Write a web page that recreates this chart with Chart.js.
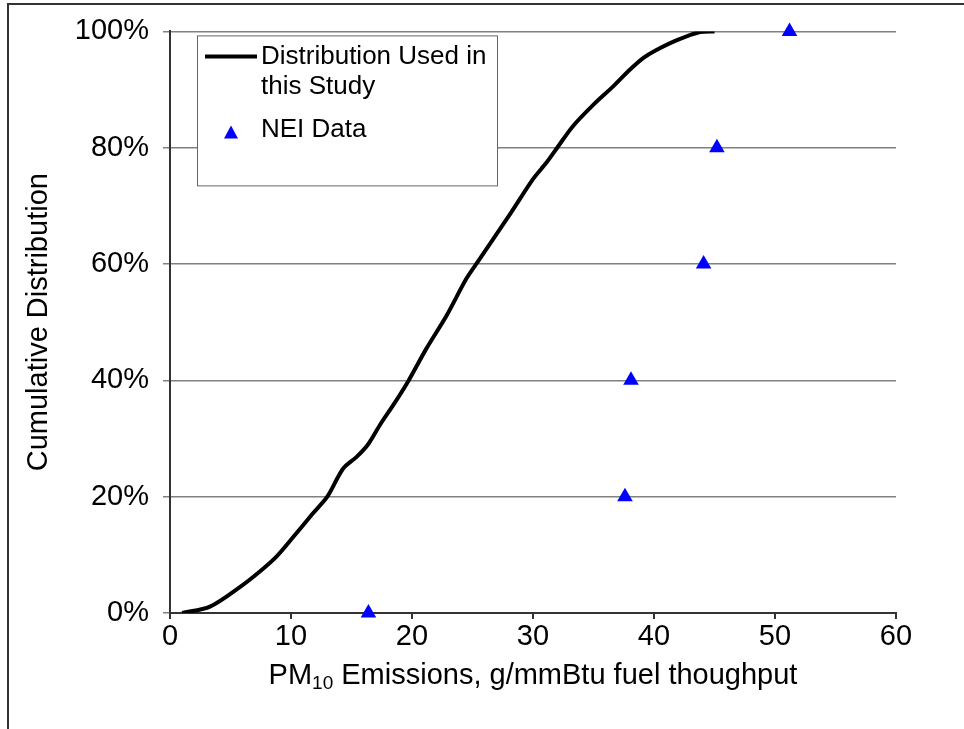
<!DOCTYPE html>
<html>
<head>
<meta charset="utf-8">
<script src="https://cdn.jsdelivr.net/npm/chart.js@4"></script>
<style>
  html, body { margin: 0; padding: 0; background: #fff; }
  #wrap { width: 964px; height: 729px; }
</style>
</head>
<body>
<div id="wrap"><canvas id="cdf"></canvas></div>
<script>
// curve: emissions (g/mmBtu) vs cumulative fraction
const curveX = [1.0, 3.3, 5.8, 7.4, 8.8, 10.2, 11.8, 13.0, 14.3, 15.4, 16.3, 17.4, 18.5, 19.7,
  21.2, 22.9, 24.5, 25.6, 28.2, 30.0, 31.1, 32.0, 33.3, 35.0, 36.6, 38.0, 39.1, 40.2, 41.9, 43.8, 45.0];
const curveY = [0.000, 0.011, 0.045, 0.071, 0.097, 0.131, 0.171, 0.200, 0.248, 0.268, 0.288, 0.325, 0.359, 0.399,
  0.455, 0.513, 0.575, 0.609, 0.689, 0.746, 0.774, 0.800, 0.837, 0.874, 0.905, 0.934, 0.954, 0.968, 0.985, 0.999, 1.000];

// NEI data points
const neiX = [16.4, 37.6, 38.1, 44.1, 45.2, 51.2];
const neiY = [0.0, 0.2, 0.4, 0.6, 0.8, 1.0];

const lineLabel = ['Distribution Used in', 'this Study'];
const neiLabel = 'NEI Data';
const yTickLabels = ['0%', '20%', '40%', '60%', '80%', '100%'];
const xTitle = ['PM', '10', ' Emissions, g/mmBtu fuel thoughput'];
const yTitle = 'Cumulative Distribution';

const FONT = "'Liberation Sans', Arial, sans-serif";
const FS = 29;      // axis text
const LFS = 26;     // legend text

const framePlugin = {
  id: 'frame',
  beforeDraw(chart) {
    const ctx = chart.ctx;
    ctx.save();
    ctx.fillStyle = '#fff';
    ctx.fillRect(0, 0, chart.width, chart.height);
    ctx.strokeStyle = '#333';
    ctx.lineWidth = 2;
    ctx.beginPath();
    ctx.moveTo(chart.width, 4);
    ctx.lineTo(8, 4);
    ctx.lineTo(8, chart.height);
    ctx.stroke();
    ctx.restore();
  }
};

const extrasPlugin = {
  id: 'extras',
  afterDraw(chart) {
    const ctx = chart.ctx;
    const area = chart.chartArea;
    ctx.save();

    // x axis title with subscript
    const big = FS + 'px ' + FONT;
    const small = Math.round(FS * 0.66) + 'px ' + FONT;
    ctx.font = big;
    const w0 = ctx.measureText(xTitle[0]).width;
    const w2 = ctx.measureText(xTitle[2]).width;
    ctx.font = small;
    const w1 = ctx.measureText(xTitle[1]).width;
    let tx = (area.left + area.right) / 2 - (w0 + w1 + w2) / 2;
    const ty = 676;
    ctx.fillStyle = '#000';
    ctx.textBaseline = 'middle';
    ctx.textAlign = 'left';
    ctx.font = big;
    ctx.fillText(xTitle[0], tx, ty);
    tx += w0;
    ctx.font = small;
    ctx.fillText(xTitle[1], tx, ty + 8);
    tx += w1;
    ctx.font = big;
    ctx.fillText(xTitle[2], tx, ty);

    // legend box
    const bx = area.left + 27, by = area.top + 4, bw = 300, bh = 150;
    ctx.fillStyle = '#fff';
    ctx.fillRect(bx, by, bw, bh);
    ctx.strokeStyle = '#666';
    ctx.lineWidth = 1;
    ctx.strokeRect(bx + 0.5, by + 0.5, bw, bh);

    ctx.strokeStyle = '#000';
    ctx.lineWidth = 4;
    ctx.beginPath();
    ctx.moveTo(bx + 8, by + 21);
    ctx.lineTo(bx + 60, by + 21);
    ctx.stroke();

    ctx.fillStyle = '#000';
    ctx.font = LFS + 'px ' + FONT;
    ctx.fillText(lineLabel[0], bx + 64, by + 21);
    ctx.fillText(lineLabel[1], bx + 64, by + 51);
    ctx.fillText(neiLabel, bx + 64, by + 94);

    ctx.fillStyle = '#0000ff';
    ctx.beginPath();
    ctx.moveTo(bx + 34, by + 90);
    ctx.lineTo(bx + 41, by + 103);
    ctx.lineTo(bx + 27, by + 103);
    ctx.closePath();
    ctx.fill();

    ctx.restore();
  }
};

new Chart(document.getElementById('cdf'), {
  type: 'scatter',
  data: {
    datasets: [{
      type: 'line',
      label: lineLabel.join(' '),
      data: curveX.map((x, i) => ({ x: x, y: curveY[i] })),
      borderColor: '#000',
      borderWidth: 4,
      pointRadius: 0,
      fill: false,
      tension: 0.3
    }, {
      label: neiLabel,
      data: neiX.map((x, i) => ({ x: x, y: neiY[i] })),
      pointStyle: 'triangle',
      pointRadius: 9,
      backgroundColor: '#0000ff',
      borderColor: '#0000ff',
      borderWidth: 0,
      clip: false
    }]
  },
  options: {
    responsive: true,
    maintainAspectRatio: false,
    animation: false,
    layout: { padding: { top: 28, right: 68, left: 0, bottom: 0 } },
    plugins: {
      legend: { display: false },
      tooltip: { enabled: false }
    },
    scales: {
      x: {
        type: 'linear',
        min: 0,
        max: 60,
        ticks: { stepSize: 10, color: '#000', font: { family: FONT, size: FS }, padding: 1 },
        grid: { drawOnChartArea: false, drawTicks: true, tickLength: 6, color: '#333', lineWidth: 2 },
        border: { color: '#333', width: 2 },
        afterFit(scale) { scale.height = 116; }
      },
      y: {
        min: 0,
        max: 1,
        ticks: {
          stepSize: 0.2,
          color: '#000',
          font: { family: FONT, size: FS },
          padding: 14,
          callback: (v, i) => yTickLabels[i]
        },
        grid: { color: '#808080', lineWidth: 1.5, tickLength: 7 },
        border: { color: '#333', width: 2 },
        title: {
          display: true,
          text: yTitle,
          color: '#000',
          font: { family: FONT, size: FS },
          padding: { top: 22, bottom: 0 }
        },
        afterFit(scale) { scale.width = 170; }
      }
    }
  },
  plugins: [framePlugin, extrasPlugin]
});
</script>
</body>
</html>
